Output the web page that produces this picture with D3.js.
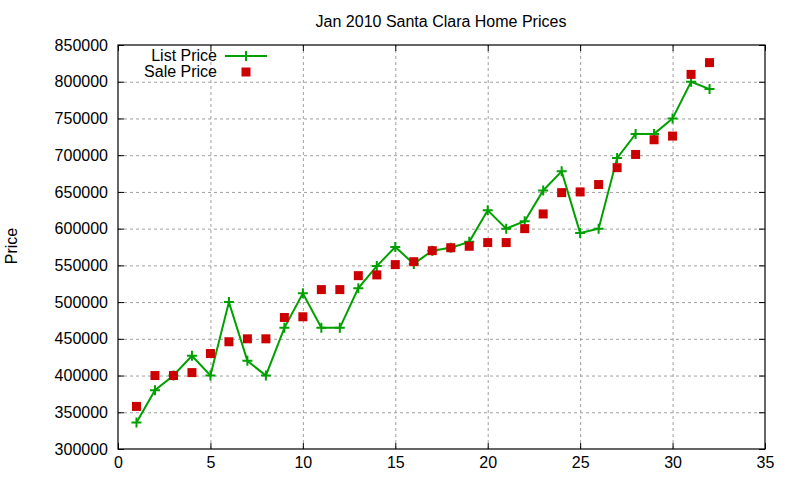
<!DOCTYPE html>
<html>
<head>
<meta charset="utf-8">
<script src="https://cdn.jsdelivr.net/npm/d3@7"></script>
<style>
  body { margin: 0; background: #fff; }
  svg { display: block; font-family: "Liberation Sans", Arial, sans-serif; }
  .grid line { stroke: #a0a0a0; stroke-dasharray: 3,3; }
  .grid path { display: none; }
  .axis path { display: none; }
  .axis line { stroke: #000; }
  .axis text { font-size: 16px; fill: #000; }
</style>
</head>
<body>
<svg id="chart" width="800" height="480"></svg>
<script>
(function () {

  'use strict';

  // day of month (x) and prices (y)
  var days = [1, 2, 3, 4, 5, 6, 7, 8, 9, 10, 11, 12, 13, 14, 15, 16,
              17, 18, 19, 20, 21, 22, 23, 24, 25, 26, 27, 28, 29, 30, 31, 32];
  var listPrice = [336000, 380000, 400000, 427000, 400000, 500000, 420000, 400000,
                   465000, 512000, 465000, 465000, 519000, 549000, 575000, 552000,
                   570000, 574000, 582000, 625000, 600000, 610000, 652000, 678000,
                   594000, 600000, 696000, 729000, 729000, 750000, 800000, 790000];
  var salePrice = [358000, 400000, 400000, 404000, 430000, 446000, 450000, 450000,
                   479000, 480000, 517000, 517000, 536000, 537000, 551000, 555000,
                   570000, 574000, 576000, 581000, 581000, 600000, 620000, 649000,
                   650000, 660000, 683000, 701000, 721000, 726000, 810000, 826000];
  var xTicks = [0, 5, 10, 15, 20, 25, 30, 35];
  var yTicks = [300000, 350000, 400000, 450000, 500000, 550000, 600000, 650000,
                700000, 750000, 800000, 850000];
  var title = 'Jan 2010 Santa Clara Home Prices';
  var yLabel = 'Price';
  var seriesNames = ['List Price', 'Sale Price'];

  var GREEN = '#00a000';
  var RED = '#cc0000';

  var left = 118, top = 45, right = 765, bottom = 449;
  var width = right - left, height = bottom - top;

  var svg = d3.select('#chart');
  var g = svg.append('g').attr('transform', 'translate(' + left + ',' + top + ')');

  var x = d3.scaleLinear().domain([0, 35]).range([0, width]);
  var y = d3.scaleLinear().domain([300000, 850000]).range([height, 0]);

  // ----------- GRID --------------
  g.append('g')
    .attr('class', 'grid')
    .attr('transform', 'translate(0,' + height + ')')
    .call(d3.axisBottom(x).tickValues(xTicks.slice(1, -1)).tickSize(-height).tickFormat(''));

  g.append('g')
    .attr('class', 'grid')
    .call(d3.axisLeft(y).tickValues(yTicks.slice(1, -1)).tickSize(-width).tickFormat(''));

  // ----------- AXES (inward ticks, mirrored) --------------
  g.append('g')
    .attr('class', 'axis')
    .attr('transform', 'translate(0,' + height + ')')
    .call(d3.axisBottom(x).tickValues(xTicks).tickSizeInner(-6).tickSizeOuter(0).tickPadding(8));

  g.append('g')
    .attr('class', 'axis')
    .call(d3.axisTop(x).tickValues(xTicks).tickSizeInner(-6).tickSizeOuter(0).tickFormat(''));

  g.append('g')
    .attr('class', 'axis')
    .call(d3.axisLeft(y).tickValues(yTicks).tickSizeInner(-6).tickSizeOuter(0).tickPadding(10)
      .tickFormat(d3.format('d')));

  g.append('g')
    .attr('class', 'axis')
    .attr('transform', 'translate(' + width + ',0)')
    .call(d3.axisRight(y).tickValues(yTicks).tickSizeInner(-6).tickSizeOuter(0).tickFormat(''));

  g.append('rect')
    .attr('width', width)
    .attr('height', height)
    .attr('fill', 'none')
    .attr('stroke', '#000')
    .attr('stroke-width', 1.2);

  // ----------- SERIES --------------
  var line = d3.line()
    .x(function (d, i) { return x(days[i]); })
    .y(function (d) { return y(d); });

  g.append('path')
    .datum(listPrice)
    .attr('d', line)
    .attr('fill', 'none')
    .attr('stroke', GREEN)
    .attr('stroke-width', 2);

  // gnuplot style '+' point
  function plus(sel, cx, cy) {
    sel.append('path')
      .attr('d', 'M' + (cx - 5) + ',' + cy + 'H' + (cx + 5) + 'M' + cx + ',' + (cy - 5) + 'V' + (cy + 5))
      .attr('stroke', GREEN)
      .attr('stroke-width', 2)
      .attr('fill', 'none');
  }

  listPrice.forEach(function (d, i) {
    plus(g, x(days[i]), y(d));
  });

  g.selectAll('.sale')
    .data(salePrice)
    .enter()
    .append('rect')
    .attr('class', 'sale')
    .attr('x', function (d, i) { return x(days[i]) - 4.5; })
    .attr('y', function (d) { return y(d) - 4.5; })
    .attr('width', 9)
    .attr('height', 9)
    .attr('fill', RED);

  // ----------- LEGEND --------------
  var legend = svg.append('g');
  legend.append('text')
    .attr('x', 217).attr('y', 61)
    .attr('text-anchor', 'end')
    .attr('font-size', 16)
    .text(seriesNames[0]);
  legend.append('line')
    .attr('x1', 225).attr('x2', 267).attr('y1', 56).attr('y2', 56)
    .attr('stroke', GREEN).attr('stroke-width', 2);
  plus(legend, 246, 56);

  legend.append('text')
    .attr('x', 217).attr('y', 77)
    .attr('text-anchor', 'end')
    .attr('font-size', 16)
    .text(seriesNames[1]);
  legend.append('rect')
    .attr('x', 241.5).attr('y', 67.5).attr('width', 9).attr('height', 9)
    .attr('fill', RED);

  // ----------- TITLES --------------
  svg.append('text')
    .attr('x', 441).attr('y', 27)
    .attr('text-anchor', 'middle')
    .attr('font-size', 16)
    .text(title);

  svg.append('text')
    .attr('transform', 'translate(17,246) rotate(-90)')
    .attr('text-anchor', 'middle')
    .attr('font-size', 16)
    .text(yLabel);

})();
</script>
</body>
</html>
